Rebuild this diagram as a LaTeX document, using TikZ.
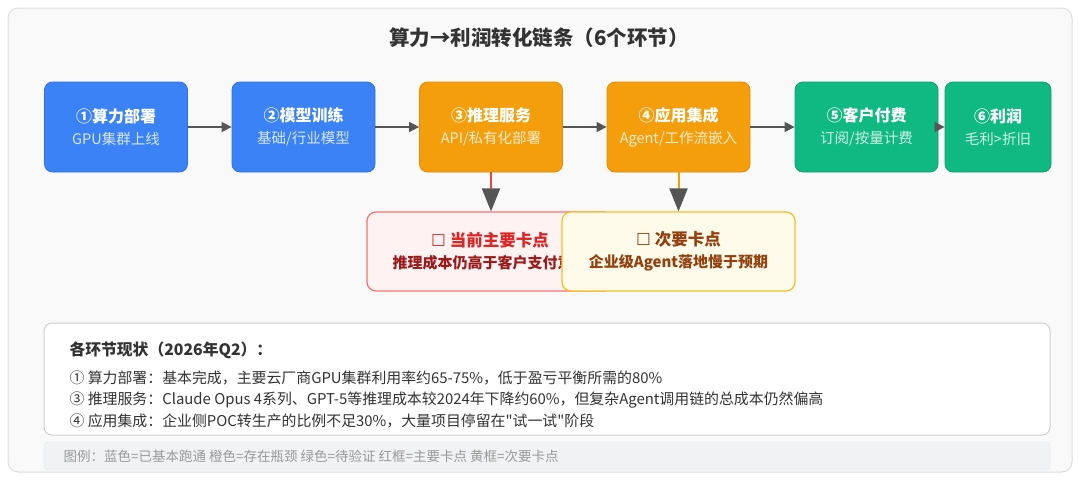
\documentclass[tikz,border=0pt]{standalone}
\usepackage{fontspec}
\setmainfont{Noto Sans CJK SC}
\newfontfamily\symfont{DejaVu Sans}
\newfontfamily\quotefont{Noto Sans CJK SC}
\usetikzlibrary{arrows.meta}

\definecolor{stageblue}{HTML}{3B82F6}
\definecolor{stageblueedge}{HTML}{2F6FE0}
\definecolor{stageorange}{HTML}{F59E0B}
\definecolor{stageorangeedge}{HTML}{E08C06}
\definecolor{stagegreen}{HTML}{10B981}
\definecolor{stagegreenedge}{HTML}{0E9F6E}
\definecolor{arrowgrey}{HTML}{555555}
\definecolor{redline}{HTML}{EF4444}
\definecolor{mainfill}{HTML}{FEF2F2}
\definecolor{mainedge}{HTML}{F87171}
\definecolor{maintitle}{HTML}{DC2626}
\definecolor{maintext}{HTML}{991B1B}
\definecolor{minorfill}{HTML}{FFFBEB}
\definecolor{minoredge}{HTML}{FBBF24}
\definecolor{minortext}{HTML}{92400E}
\definecolor{framefill}{HTML}{F9F9F9}
\definecolor{frameedge}{HTML}{DDDDDD}
\definecolor{paneledge}{HTML}{D0D0D0}
\definecolor{legendfill}{HTML}{F1F2F4}
\definecolor{legendedge}{HTML}{E6E7EA}
\definecolor{legendtext}{HTML}{999999}
\definecolor{bodytext}{HTML}{333333}

% title line and sub line of a stage box
\newcommand{\stagetext}[3]{%
  {\fontsize{16}{16}\selectfont\bfseries #1}\\[7pt]%
  {\fontsize{14.5}{15}\selectfont\color{white!80!#3}#2}}
\newcommand{\blocktext}[3]{%
  {\fontsize{16.5}{17}\selectfont\bfseries\color{#3}{\symfont ☐} #1}\\[6pt]%
  {\fontsize{15}{15}\selectfont\bfseries #2}}

\begin{document}
\begin{tikzpicture}[x=1pt, y=-1pt,
  stage/.style={rectangle, rounded corners=8pt, minimum width=143pt,
    minimum height=90pt, align=center, text=white, line width=0.8pt, inner sep=0pt},
  block/.style={rectangle, rounded corners=9pt, minimum height=79pt,
    align=center, line width=1.2pt, inner sep=0pt},
  flow/.style={arrowgrey, line width=1.6pt, -{Triangle[length=10pt, width=10pt]}},
  drop/.style={line width=2pt, -{Triangle[length=23pt, width=18pt, color=arrowgrey]}},
  statusline/.style={anchor=west, text=bodytext, font=\fontsize{14.9}{15}\selectfont}]
  \useasboundingbox (0,0) rectangle (1080,480);
  % outer frame
  \draw[frameedge, fill=framefill, rounded corners=10pt, line width=1pt] (8,8) rectangle (1072,472);
  \node[text=bodytext, font=\fontsize{20.5}{21}\selectfont\bfseries] (heading) at (539,38)
    {算力→利润转化链条（6个环节）};

  % the six stages
  \node[stage, fill=stageblue, draw=stageblueedge] (deploy) at (116,127)
    {\stagetext{①算力部署}{GPU集群上线}{stageblue}};
  \node[stage, fill=stageblue, draw=stageblueedge] (train) at (303.5,127)
    {\stagetext{②模型训练}{基础/行业模型}{stageblue}};
  \node[stage, fill=stageorange, draw=stageorangeedge] (infer) at (491,127)
    {\stagetext{③推理服务}{API/私有化部署}{stageorange}};
  \node[stage, fill=stageorange, draw=stageorangeedge] (integrate) at (678.5,127)
    {\stagetext{④应用集成}{Agent/工作流嵌入}{stageorange}};
  \node[stage, fill=stagegreen, draw=stagegreenedge] (pay) at (866.5,127)
    {\stagetext{⑤客户付费}{订阅/按量计费}{stagegreen}};
  \node[stage, fill=stagegreen, draw=stagegreenedge, minimum width=106pt] (profit) at (998,127)
    {\stagetext{⑥利润}{毛利>折旧}{stagegreen}};

  \draw[flow] (deploy) -- (train);
  \draw[flow] (train) -- (infer);
  \draw[flow] (infer) -- (integrate);
  \draw[flow] (integrate) -- (pay);
  \draw[flow] (pay) -- (profit);

  % bottlenecks
  \node[block, fill=mainfill, draw=mainedge, minimum width=246pt, text=maintext] (mainblock) at (490,251.5)
    {\blocktext{当前主要卡点}{推理成本仍高于客户支付意愿}{maintitle}};
  \node[block, fill=minorfill, draw=minoredge, minimum width=233pt, text=minortext] (minorblock) at (678.5,251.5)
    {\blocktext{次要卡点}{企业级Agent落地慢于预期}{minortext}};
  \draw[drop, redline] (infer.south) -- (infer.south |- mainblock.north);
  \draw[drop, stageorange] (integrate.south) -- (integrate.south |- minorblock.north);

  % status panel
  \draw[paneledge, fill=white, rounded corners=8pt, line width=1pt] (44,323) rectangle (1050,435);
  \node[anchor=west, text=bodytext, font=\fontsize{15.8}{16}\selectfont\bfseries] (statushead) at (66,350)
    {各环节现状（2026年Q2）：};
  \node[statusline] (statusdeploy) at (66,378)
    {① 算力部署：基本完成，主要云厂商GPU集群利用率约65-75\%，低于盈亏平衡所需的80\%};
  \node[statusline] (statusinfer) at (66,400)
    {③ 推理服务：Claude Opus 4系列、GPT-5等推理成本较2024年下降约60\%，但复杂Agent调用链的总成本仍然偏高};
  \node[statusline] (statusintegrate) at (66,421)
    {④ 应用集成：企业侧POC转生产的比例不足30\%，大量项目停留在{\quotefont "}试一试{\quotefont "}阶段};

  % legend
  \draw[legendedge, fill=legendfill, rounded corners=4pt] (44,442) rectangle (1050,470);
  \node[anchor=west, text=legendtext, font=\fontsize{13.5}{14}\selectfont] (legend) at (60,456)
    {图例：蓝色=已基本跑通 橙色=存在瓶颈 绿色=待验证 红框=主要卡点 黄框=次要卡点};
\end{tikzpicture}
\end{document}
